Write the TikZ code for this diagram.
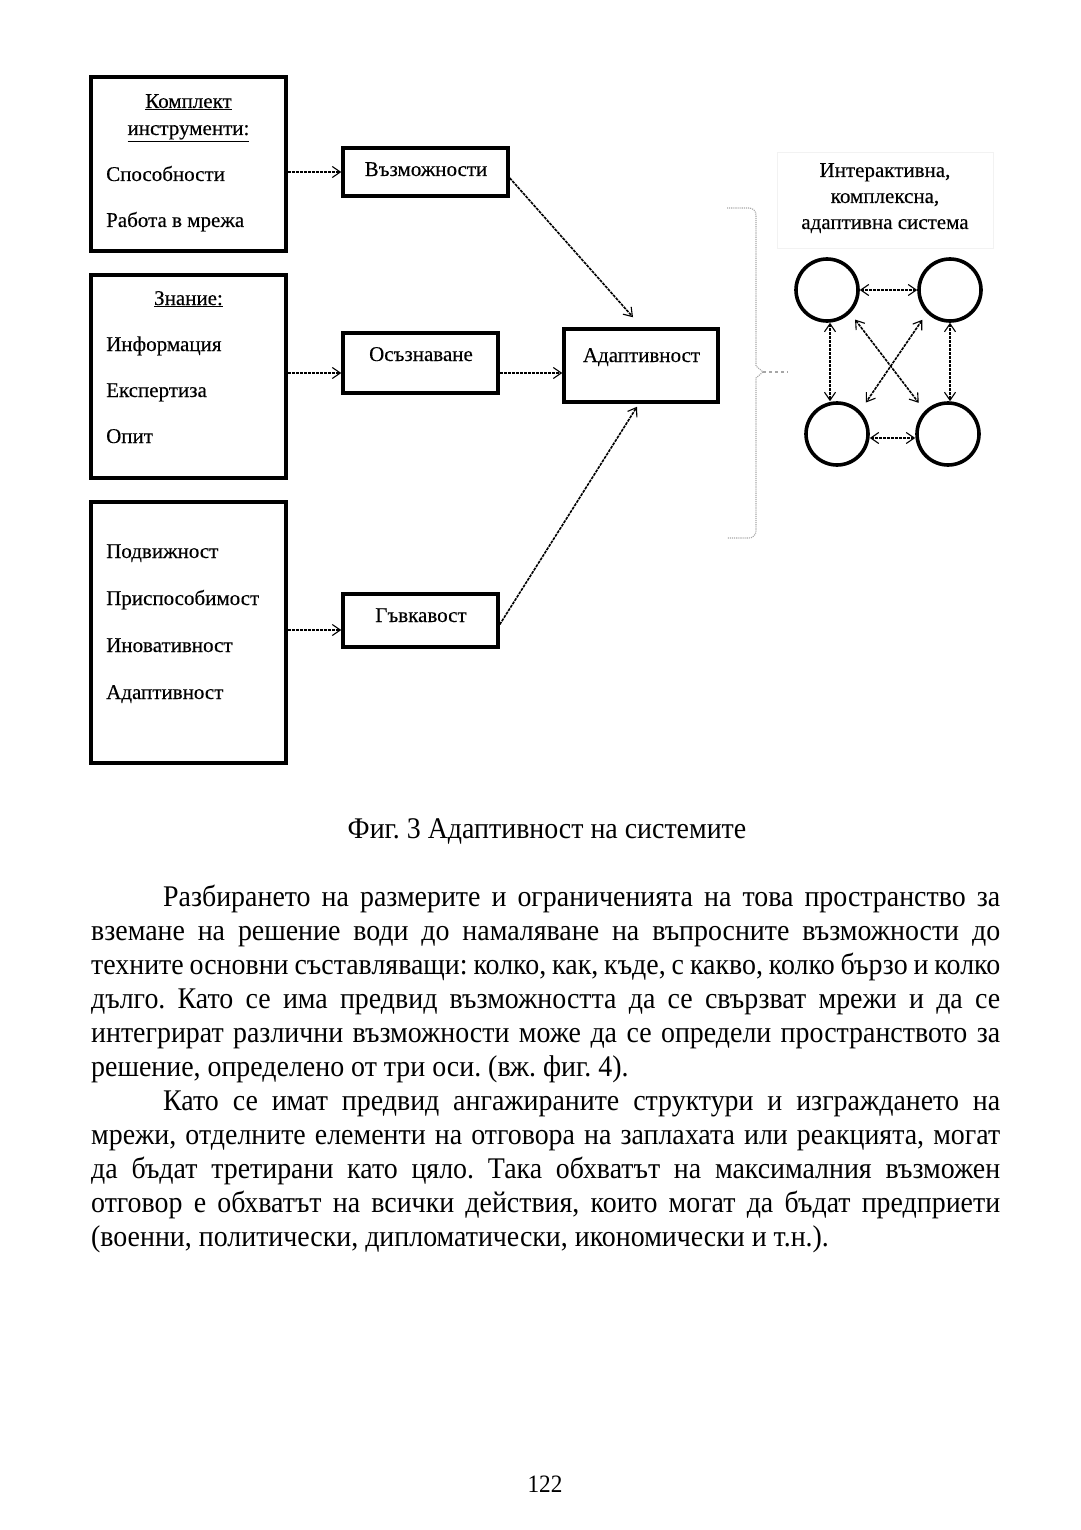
\documentclass[tikz,border=0pt]{standalone}
\usepackage{fontspec}
\setmainfont{Liberation Serif}
\newfontfamily\bodyfont[FakeStretch=0.93]{Liberation Serif}
\newfontfamily\diagfont[FakeBold=0.3]{Liberation Serif}
\usetikzlibrary{arrows.meta,calc}
\frenchspacing
\begin{document}
\begin{tikzpicture}[x=1pt,y=-1pt,
  box/.style={draw, line width=3.5pt, inner sep=0pt},
  lbl/.style={font=\diagfont\fontsize{21}{25}\selectfont, inner sep=0pt, anchor=base west},
  clbl/.style={font=\diagfont\fontsize{21}{25}\selectfont, inner sep=0pt, anchor=base},
  tip/.tip={Straight Barb[length=8pt,width=11pt,line width=1.1pt]},
  conn/.style={line width=1.6pt, dash pattern=on 3pt off 1pt, -tip},
  dconn/.style={line width=1.6pt, dash pattern=on 3pt off 1pt, tip-tip},
  circ/.style={draw, circle, line width=3.6pt, minimum size=62pt, inner sep=0pt},
  brace/.style={draw=gray!70, line width=1.1pt, densely dotted},
  bodyline/.style={anchor=base west, inner sep=0pt, font=\bodyfont\fontsize{30}{34}\selectfont},
  capt/.style={anchor=base, inner sep=0pt, font=\bodyfont\fontsize{30}{34}\selectfont}
]
\fill[white] (0,0) rectangle (1080,1530);
\useasboundingbox (0,0) rectangle (1080,1530);

% left boxes
\node[box, minimum width=195pt, minimum height=174pt] (k1) at (188.5,164) {};
\node[box, minimum width=195pt, minimum height=203pt] (k2) at (188.5,376.5) {};
\node[box, minimum width=195pt, minimum height=261pt] (k3) at (188.5,632.5) {};

\node[clbl] (k1h1) at (188.5,108) {\underline{Комплект}};
\node[clbl] (k1h2) at (188.5,135) {\underline{инструменти:}};
\node[lbl] (k1a) at (106,181) {Способности};
\node[lbl] (k1b) at (106,227) {Работа в мрежа};

\node[clbl] (k2h) at (188.5,305) {\underline{Знание:}};
\node[lbl] (k2a) at (106,351) {Информация};
\node[lbl] (k2b) at (106,397) {Експертиза};
\node[lbl] (k2c) at (106,443) {Опит};

\node[lbl] (k3a) at (106,558) {Подвижност};
\node[lbl] (k3b) at (106,605) {Приспособимост};
\node[lbl] (k3c) at (106,652) {Иновативност};
\node[lbl] (k3d) at (106,699) {Адаптивност};

% middle boxes
\node[box, minimum width=165pt, minimum height=48pt] (vz) at (425.5,172) {};
\node[box, minimum width=155pt, minimum height=60pt] (os) at (420.5,363) {};
\node[box, minimum width=155pt, minimum height=53pt] (gv) at (420.5,620.5) {};
\node[box, minimum width=154pt, minimum height=73pt] (ad) at (641,365.5) {};

\node[clbl] (vzt) at (426,176) {Възможности};
\node[clbl] (ost) at (421,361) {Осъзнаване};
\node[clbl] (gvt) at (421,622) {Гъвкавост};
\node[clbl] (adt) at (641.5,362) {Адаптивност};

% connectors
\draw[conn] (k1.east |- vz.west) -- (vz.west);
\coordinate (osin) at ([yshift=-10pt]os.west);
\draw[conn] (k2.east |- osin) -- (osin);
\coordinate (gvin) at ([yshift=-9.5pt]gv.west);
\draw[conn] (k3.east |- gvin) -- (gvin);
\coordinate (osout) at ([yshift=-10pt]os.east);
\draw[conn] (osout) -- (ad.west |- osout);
\coordinate (vzout) at ([yshift=-6pt]vz.east);
\coordinate (adin1) at ([xshift=-8pt,yshift=10pt]ad.north);
\draw[conn] (vzout) -- (adin1);
\coordinate (gvout) at ([yshift=-4pt]gv.east);
\coordinate (adin2) at ([xshift=-4pt,yshift=-3pt]ad.south);
\draw[conn] (gvout) -- (adin2);

% brace
\coordinate (b1) at (727,208);
\coordinate (b2) at (756,208);
\coordinate (b3) at (756,366);
\coordinate (btip) at (763,372);
\coordinate (b4) at (756,378);
\coordinate (b5) at (756,538);
\coordinate (b6) at (727,538);
\coordinate (bend) at (788,372);
\draw[brace] (b1) [rounded corners=7pt] -- (b2) [sharp corners] -- (b3) -- (btip) -- (b4) [rounded corners=7pt] -- (b5) [sharp corners] -- (b6);
\draw[draw=gray!70, line width=1.1pt, dashed] (btip) -- (bend);

% title
\node[draw=gray!10, line width=0.8pt, minimum width=216pt, minimum height=96pt] (tb) at (885,200) {};
\node[clbl] (t1) at (885,177) {Интерактивна,};
\node[clbl] (t2) at (885,203) {комплексна,};
\node[clbl] (t3) at (885,229) {адаптивна система};

% circles
\node[circ] (c1) at (827,290) {};
\node[circ] (c2) at (950,290) {};
\node[circ] (c3) at (837,434) {};
\node[circ] (c4) at (948,434) {};

\draw[dconn] (c1.east) -- (c2.west);
\draw[dconn] ([yshift=-4pt]c3.east) -- ([yshift=-4pt]c4.west);
\draw[dconn] ([xshift=3pt]c1.south) -- ([xshift=3pt]c1.south |- c3.north);
\draw[dconn] (c2.south) -- (c2.south |- c4.north);
\draw[dconn, shorten <=8pt, shorten >=10pt] (c1.south east) -- (c4.north west);
\draw[dconn, shorten <=8pt, shorten >=10pt] (c2.south west) -- (c3.north east);

% caption
\node[capt] (cap) at (547,838) {Фиг. 3 Адаптивност на системите};

% body text
\node[bodyline] (l1) at (163,906) {\makebox[837pt][s]{Разбирането на размерите и ограниченията на това пространство за}};
\node[bodyline] (l2) at (91,940) {\makebox[909pt][s]{вземане на решение води до намаляване на въпросните възможности до}};
\node[bodyline] (l3) at (91,974) {\makebox[909pt][s]{техните основни съставляващи: колко, как, къде, с какво, колко бързо и колко}};
\node[bodyline] (l4) at (91,1008) {\makebox[909pt][s]{дълго. Като се има предвид възможността да се свързват мрежи и да се}};
\node[bodyline] (l5) at (91,1042) {\makebox[909pt][s]{интегрират различни възможности може да се определи пространството за}};
\node[bodyline] (l6) at (91,1076) {решение, определено от три оси. (вж. фиг. 4).};
\node[bodyline] (l7) at (163,1110) {\makebox[837pt][s]{Като се имат предвид ангажираните структури и изграждането на}};
\node[bodyline] (l8) at (91,1144) {\makebox[909pt][s]{мрежи, отделните елементи на отговора на заплахата или реакцията, могат}};
\node[bodyline] (l9) at (91,1178) {\makebox[909pt][s]{да бъдат третирани като цяло. Така обхватът на максималния възможен}};
\node[bodyline] (l10) at (91,1212) {\makebox[909pt][s]{отговор е обхватът на всички действия, които могат да бъдат предприети}};
\node[bodyline] (l11) at (91,1246) {(военни, политически, дипломатически, икономически и т.н.).};

% page number
\node[anchor=base, inner sep=0pt, font=\bodyfont\fontsize{25}{30}\selectfont] (pg) at (545,1492) {122};
\end{tikzpicture}
\end{document}
